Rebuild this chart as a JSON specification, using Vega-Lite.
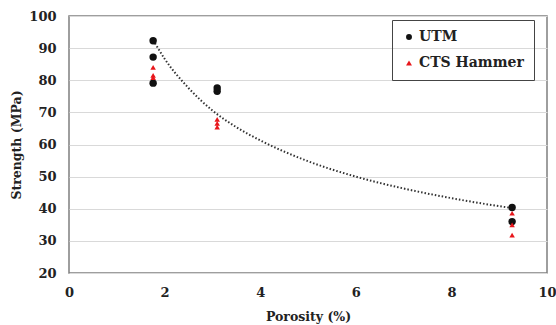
{
  "$schema": "https://vega.github.io/schema/vega-lite/v6.json",
  "width": 478,
  "height": 257,
  "autosize": {"type": "none"},
  "padding": {"left": 69, "top": 16, "right": 9, "bottom": 52},
  "background": "white",
  "config": {
    "view": {"stroke": "#7f7f7f", "strokeWidth": 1.5},
    "font": "DejaVu Serif",
    "axis": {
      "labelFont": "DejaVu Serif",
      "labelFontWeight": "bold",
      "labelFontSize": 13,
      "labelColor": "#222",
      "titleFont": "DejaVu Serif",
      "titleFontWeight": "bold",
      "titleFontSize": 12.5,
      "titleColor": "#222",
      "domain": false,
      "ticks": false,
      "labelFlush": false
    },
    "legend": {
      "labelFont": "DejaVu Serif"
    }
  },
  "datasets": {
    "pts": [
      {"porosity": 1.76, "strength": 92.3, "method": "UTM"},
      {"porosity": 1.76, "strength": 87.2, "method": "UTM"},
      {"porosity": 1.76, "strength": 79.1, "method": "UTM"},
      {"porosity": 3.1, "strength": 77.6, "method": "UTM"},
      {"porosity": 3.1, "strength": 76.6, "method": "UTM"},
      {"porosity": 9.27, "strength": 40.4, "method": "UTM"},
      {"porosity": 9.27, "strength": 36.0, "method": "UTM"},
      {"porosity": 1.76, "strength": 84.0, "method": "CTS Hammer"},
      {"porosity": 1.76, "strength": 81.5, "method": "CTS Hammer"},
      {"porosity": 1.76, "strength": 80.8, "method": "CTS Hammer"},
      {"porosity": 3.1, "strength": 67.8, "method": "CTS Hammer"},
      {"porosity": 3.1, "strength": 66.6, "method": "CTS Hammer"},
      {"porosity": 3.1, "strength": 65.4, "method": "CTS Hammer"},
      {"porosity": 9.27, "strength": 38.6, "method": "CTS Hammer"},
      {"porosity": 9.27, "strength": 35.0, "method": "CTS Hammer"},
      {"porosity": 9.27, "strength": 31.8, "method": "CTS Hammer"}
    ],
    "trend": [
      {"porosity": 1.76, "strength": 92.5},
      {"porosity": 2.0, "strength": 86.7},
      {"porosity": 2.5, "strength": 77.6},
      {"porosity": 3.0, "strength": 70.6},
      {"porosity": 3.5, "strength": 65.4},
      {"porosity": 4.0, "strength": 61.3},
      {"porosity": 5.0, "strength": 54.8},
      {"porosity": 6.0, "strength": 50.0},
      {"porosity": 7.0, "strength": 46.3},
      {"porosity": 8.0, "strength": 43.3},
      {"porosity": 9.0, "strength": 40.8},
      {"porosity": 9.27, "strength": 40.2}
    ]
  },
  "layer": [
    {
      "data": {"name": "trend"},
      "mark": {"type": "line", "color": "#333", "strokeWidth": 2, "strokeDash": [1.5, 2], "interpolate": "monotone"},
      "encoding": {
        "x": {"field": "porosity", "type": "quantitative", "scale": {"domain": [0, 10]}, "axis": {"title": "Porosity (%)", "tickCount": 5, "grid": false, "labelPadding": 13, "titlePadding": 11, "labelFlush": false}},
        "y": {"field": "strength", "type": "quantitative", "scale": {"domain": [20, 100]}, "axis": {"title": "Strength (MPa)", "tickCount": 8, "grid": true, "gridColor": "#d9d9d9", "labelPadding": 13, "titlePadding": 5}}
      }
    },
    {
      "data": {"name": "pts"},
      "transform": [{"filter": "datum.method === 'UTM'"}],
      "mark": {"type": "point", "filled": true, "opacity": 1, "size": 55},
      "encoding": {
        "x": {"field": "porosity", "type": "quantitative"},
        "y": {"field": "strength", "type": "quantitative"},
        "color": {"field": "method", "type": "nominal", "scale": {"domain": ["UTM", "CTS Hammer"], "range": ["#111111", "#e8161b"]},
          "legend": {
            "title": null, "orient": "none", "legendX": 323, "legendY": 4,
            "strokeColor": "#444", "padding": 10, "rowPadding": 12,
            "labelFontWeight": "bold", "labelFontSize": 14, "labelColor": "#222",
            "symbolSize": 35, "symbolOpacity": 1, "labelOffset": 3
          }
        },
        "shape": {"field": "method", "type": "nominal", "scale": {"domain": ["UTM", "CTS Hammer"], "range": ["circle", "triangle-up"]},
          "legend": {
            "title": null, "orient": "none", "legendX": 323, "legendY": 4,
            "strokeColor": "#444", "padding": 10, "rowPadding": 12,
            "labelFontWeight": "bold", "labelFontSize": 14, "labelColor": "#222",
            "symbolSize": 35, "symbolOpacity": 1, "labelOffset": 3
          }
        }
      }
    },
    {
      "data": {"name": "pts"},
      "transform": [{"filter": "datum.method === 'CTS Hammer'"}],
      "mark": {"type": "point", "filled": true, "opacity": 1, "size": 30},
      "encoding": {
        "x": {"field": "porosity", "type": "quantitative"},
        "y": {"field": "strength", "type": "quantitative"},
        "color": {"field": "method", "type": "nominal"},
        "shape": {"field": "method", "type": "nominal"}
      }
    }
  ]
}
